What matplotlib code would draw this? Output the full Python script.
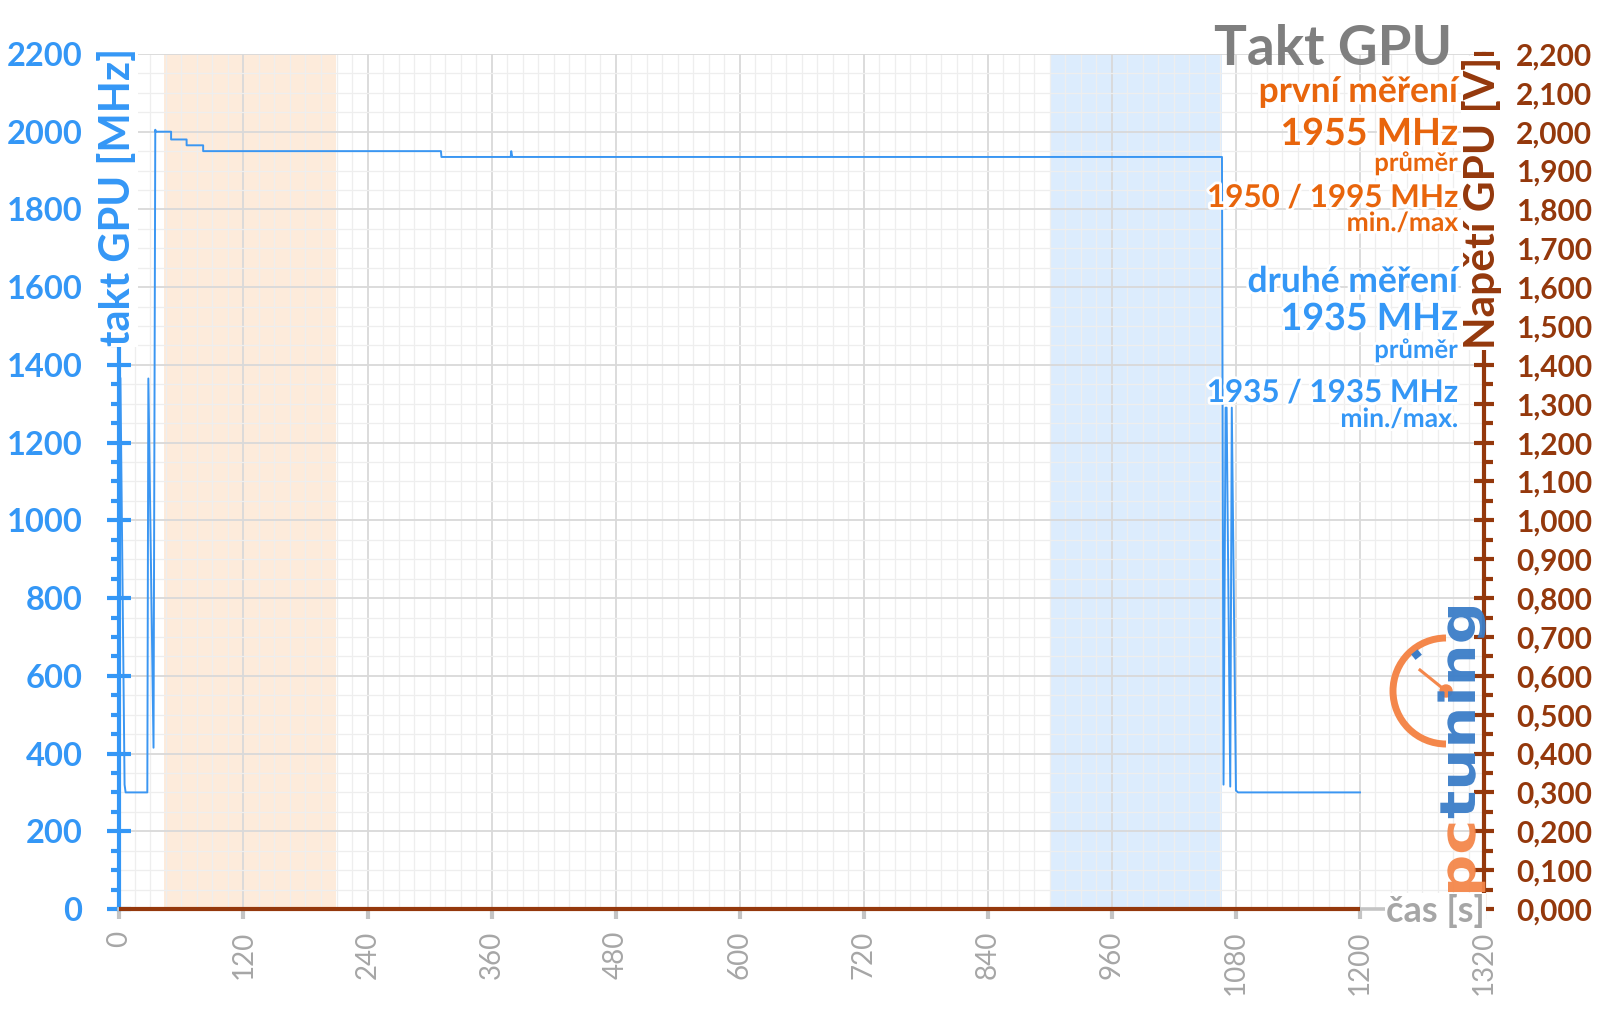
import numpy as np
import matplotlib
matplotlib.use("Agg")
import matplotlib.pyplot as plt
from matplotlib.ticker import MultipleLocator, FuncFormatter
from matplotlib.patches import Arc, Circle, PathPatch
from matplotlib.textpath import TextPath
from matplotlib.font_manager import FontProperties
from matplotlib.transforms import Affine2D
import matplotlib.patheffects as pe

# GPU clock over time [s, MHz]
time_s = [1, 5, 6, 27, 28, 33, 34.7, 35, 50, 50, 65, 65, 81, 81, 311, 311.5,
          378.5, 379, 380, 1066.5, 1068, 1070, 1071, 1074.5, 1076, 1080, 1082, 1200]
clock_mhz = [1365, 320, 300, 300, 1365, 415, 2005, 2000, 2000, 1980, 1980, 1965, 1965, 1950, 1950, 1935,
             1935, 1950, 1935, 1935, 320, 1290, 1290, 315, 1290, 305, 300, 300]

# GPU voltage (not logged -> zero)
volt_t = [0, 1200]
volt_v = [0.0, 0.0]

# measurement windows
first_window = (43.5, 209.5)
second_window = (900.5, 1066.5)

first_stats = (1955, 1950, 1995)    # avg, min, max
second_stats = (1935, 1935, 1935)

xticks = list(range(0, 1321, 120))

BLUE = "#3497F6"
LINE = "#3A96F2"
ORANGE = "#E8650C"
BROWN = "#94380C"
GRAY = "#A6A6A6"

plt.rcParams["font.family"] = ["Lato", "DejaVu Sans"]

fig = plt.figure(figsize=(16, 10.09), dpi=100)
ax = fig.add_axes([0.07463, 0.09911, 0.8529, 0.8474])
ax2 = ax.twinx()

ax.set_axisbelow(True)
ax.axvspan(*first_window, color="#FDEBDB", zorder=0.1, lw=0)
ax.axvspan(*second_window, color="#DCECFD", zorder=0.1, lw=0)

ax.plot(time_s, clock_mhz, color=LINE, lw=1.4, zorder=3)
ax2.plot(volt_t, volt_v, color=BROWN, lw=3, zorder=3, clip_on=False, solid_capstyle="butt")

ax.set_xlim(0, 1320)
ax.set_ylim(0, 2200)
ax2.set_ylim(0, 2.2)

ax.set_xticks(xticks)
ax.xaxis.set_minor_locator(MultipleLocator(15))
ax.yaxis.set_major_locator(MultipleLocator(200))
ax.yaxis.set_minor_locator(MultipleLocator(50))
ax2.yaxis.set_major_locator(MultipleLocator(0.1))
ax2.yaxis.set_minor_locator(MultipleLocator(0.05))
ax2.yaxis.set_major_formatter(FuncFormatter(lambda v, p: f"{v:.3f}".replace(".", ",")))

ax.grid(which="major", color="#D9D9D9", lw=1.3)
ax.grid(which="minor", color="#EEEEEE", lw=0.9)

for s in ["top", "right"]:
    ax.spines[s].set_visible(False)
for s in ["top", "left", "bottom"]:
    ax2.spines[s].set_visible(False)
ax.spines["left"].set_color(BLUE)
ax.spines["left"].set_linewidth(3)
ax.spines["bottom"].set_color("#C4C4C4")
ax.spines["bottom"].set_linewidth(2.6)
ax2.spines["right"].set_color(BROWN)
ax2.spines["right"].set_linewidth(3)

ax.tick_params(axis="y", which="major", direction="inout", length=17, width=3, color=BLUE,
               pad=18, labelcolor=BLUE, labelsize=23.5)
ax.tick_params(axis="y", which="minor", direction="out", length=6, width=3, color=BLUE)
for lab in ax.get_yticklabels():
    lab.set_fontweight("bold")
ax.tick_params(axis="x", which="major", direction="out", length=7.5, width=3, color="#C4C4C4",
               pad=8, labelcolor=GRAY, labelsize=20, labelrotation=90)
ax.tick_params(axis="x", which="minor", length=0)
ax2.tick_params(axis="y", which="major", direction="inout", length=15, width=3, color=BROWN,
                pad=15.5, labelcolor=BROWN, labelsize=21.5)
ax2.tick_params(axis="y", which="minor", direction="out", length=6.5, width=3, color=BROWN)
for lab in ax2.get_yticklabels():
    lab.set_fontweight("bold")

# overlay in pixel coordinates (y down)
ov = fig.add_axes([0, 0, 1, 1])
ov.set_xlim(0, 1600)
ov.set_ylim(1009, 0)
ov.axis("off")

halo = [pe.withStroke(linewidth=4, foreground="white")]
ov.text(1452, 65, "Takt GPU", ha="right", va="baseline", fontsize=39.5, fontweight="bold", color="#7F7F7F")
notes = [
    ("první měření", 102, 25.5, ORANGE),
    (f"{first_stats[0]} MHz", 145, 27, ORANGE),
    ("průměr", 171, 18.5, ORANGE),
    (f"{first_stats[1]} / {first_stats[2]} MHz", 207, 22.6, ORANGE),
    ("min./max", 231, 19, ORANGE),
    ("druhé měření", 292, 25.5, BLUE),
    (f"{second_stats[0]} MHz", 330, 27, BLUE),
    ("průměr", 358, 18.5, BLUE),
    (f"{second_stats[1]} / {second_stats[2]} MHz", 402, 22.6, BLUE),
    ("min./max.", 427, 19, BLUE),
]
for txt, y, fs, c in notes:
    ov.text(1458, y, txt, ha="right", va="baseline", fontsize=fs, fontweight="bold", color=c,
            path_effects=halo)

box = dict(facecolor="white", edgecolor="none", pad=1)
ov.text(117, 197, "takt GPU [MHz]", rotation=90, ha="center", va="center", fontsize=30,
        fontweight="bold", color=BLUE, bbox=box)
ov.text(1482, 203, "Napětí GPU [V]", rotation=90, ha="center", va="center", fontsize=30.5,
        fontweight="bold", color=BROWN, bbox=box)
ov.text(1386, 922, "čas [s]", ha="left", va="baseline", fontsize=26, fontweight="bold",
        color=GRAY, bbox=dict(facecolor="white", edgecolor="none", pad=0.5))

# pctuning logo
LOGO_OR = "#F4874B"
LOGO_BL = "#3B7DC8"
cx, cy, r = 1446, 691, 53
ov.add_patch(Arc((cx, cy), 2 * r, 2 * r, theta1=90, theta2=270, color=LOGO_OR, lw=5))
ang = np.radians([124, 134])
ov.plot(cx + (r - 6) * np.cos(ang), cy - (r - 6) * np.sin(ang), color=LOGO_BL, lw=5,
        solid_capstyle="butt")
ov.plot([1420, cx], [670, cy], color=LOGO_OR, lw=2.2)
ov.add_patch(Circle((cx, cy), 6, color=LOGO_OR))

fp = FontProperties(family="DejaVu Sans", weight="bold")
p_pc = TextPath((0, 0), "pc", size=100, prop=fp)
p_tu = TextPath((0, 0), "tuning", size=100, prop=fp)
xh = TextPath((0, 0), "x", size=100, prop=fp).get_extents().y1
w_pc = p_pc.get_extents().x1 + 8
total = w_pc + p_tu.get_extents().x1
sx, sy = 290 / total, 27 / xh
bx, by = 1475, 897
for path, off, c in [(p_pc, 0, LOGO_OR), (p_tu, w_pc, LOGO_BL)]:
    m = np.array([[0, -sy, bx], [-sx, 0, by - off * sx], [0, 0, 1]])
    ov.add_patch(PathPatch(path, transform=Affine2D(m) + ov.transData, facecolor=c,
                           edgecolor="none", alpha=0.95))

fig.savefig("out.png", dpi=100)
